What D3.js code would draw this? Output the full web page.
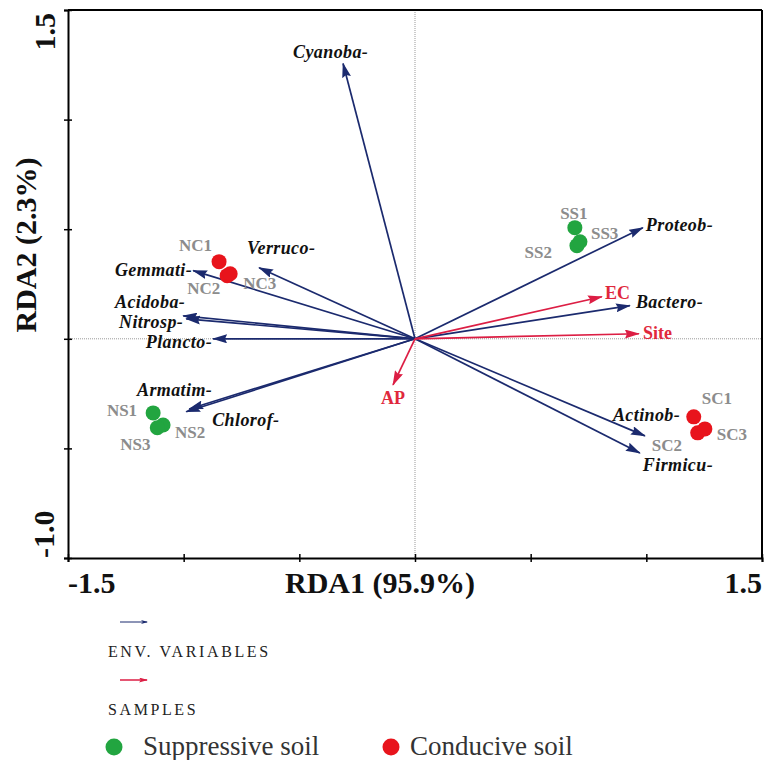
<html>
<head>
<style>
body { margin: 0; background: #fff; }
svg text { font-family: 'Liberation Serif', 'Times New Roman', serif; }
.species-label { font-size: 18px; font-weight: bold; font-style: italic; fill: #111; letter-spacing: 0.4px; }
.env-label { font-size: 18px; font-weight: bold; fill: #e0283c; }
.sample-label { font-size: 17px; font-weight: bold; fill: #8c8c8c; }
.axis-text { font-size: 30px; font-weight: bold; fill: #111; }
.legend-small { font-size: 16px; fill: #222; letter-spacing: 2.6px; }
.legend-big { font-size: 27px; fill: #333; }
</style>
</head>
<body>

<svg></svg>

<script src="https://d3js.org/d3.v7.min.js"></script>
<script>

const navy = '#1b2a6e';
const red = '#dc1e44';
const groupColors = ['#22a540', '#e8141c'];

// species arrows (RDA1, RDA2)
const speciesNames = ['Cyanoba-', 'Verruco-', 'Gemmati-', 'Acidoba-', 'Nitrosp-', 'Plancto-',
    'Armatim-', 'Chlorof-', 'Proteob-', 'Bactero-', 'Actinob-', 'Firmicu-'];
const speciesRDA1 = [-0.311, -0.674, -0.959, -1.002, -0.989, -0.873, -0.976, -0.989, 0.985, 0.929, 0.994, 0.972];
const speciesRDA2 = [1.256, 0.324, 0.311, 0.105, 0.091, 0.000, -0.320, -0.333, 0.507, 0.151, -0.443, -0.521];

// environmental arrows
const envNames = ['EC', 'Site', 'AP'];
const envRDA1 = [0.808, 0.968, -0.095];
const envRDA2 = [0.192, 0.023, -0.210];

// samples
const sampleNames = ['SS1', 'SS2', 'SS3', 'NC1', 'NC2', 'NC3', 'NS1', 'NS2', 'NS3', 'SC1', 'SC2', 'SC3'];
const sampleRDA1 = [0.691, 0.700, 0.713, -0.847, -0.812, -0.799, -1.132, -1.089, -1.114, 1.205, 1.222, 1.253];
const sampleRDA2 = [0.507, 0.425, 0.443, 0.352, 0.288, 0.297, -0.338, -0.393, -0.406, -0.356, -0.429, -0.411];
const sampleGroup = [0, 0, 0, 1, 1, 1, 0, 0, 0, 1, 1, 1];

const groupNames = ['Suppressive soil', 'Conducive soil'];
const xTicks = [-1.5, -1.0, -0.5, 0, 0.5, 1.0, 1.5];
const yTicks = [-1.0, -0.5, 0, 0.5, 1.0, 1.5];
const xTickLabels = ['-1.5', '1.5'];
const yTickLabels = ['1.5', '-1.0'];

// label placement, pixels from the arrow tip / point: [dx, dy, anchor]
const labelOffsets = {
    'Cyanoba-': [-50, -5, 'start'], 'Verruco-': [-12, -14, 'start'], 'Gemmati-': [-1, 5, 'end'],
    'Acidoba-': [2, -8, 'end'], 'Nitrosp-': [-3, 9, 'end'], 'Plancto-': [-1, 9, 'end'],
    'Armatim-': [23, -13, 'end'], 'Chlorof-': [26, 14, 'start'], 'Proteob-': [3, 3, 'start'],
    'Bactero-': [6, 2, 'start'], 'Actinob-': [-32, -15, 'start'], 'Firmicu-': [3, 18, 'start'],
    'EC': [3, 2, 'start'], 'Site': [4, 5, 'start'], 'AP': [0, 19, 'middle'],
    'SS1': [-1, -9, 'middle'], 'SS2': [-25, 12, 'end'], 'SS3': [11, -3, 'start'],
    'NC1': [-7, -11, 'end'], 'NC2': [-40, 18, 'start'], 'NC3': [13, 15, 'start'],
    'NS1': [-16, 3, 'end'], 'NS2': [12, 13, 'start'], 'NS3': [-37, 22, 'start'],
    'SC1': [8, -13, 'start'], 'SC2': [-46, 18, 'start'], 'SC3': [12, 11, 'start'],
};

const width = 770;
const height = 760;
const plot = {left: 68, right: 762, top: 10, bottom: 558};

const x = d3.scaleLinear().domain([-1.5, 1.5]).range([plot.left, plot.right]);
const y = d3.scaleLinear().domain([-1.0, 1.5]).range([plot.bottom, plot.top]);

const svg = d3.select('svg')
    .attr('width', width)
    .attr('height', height);

const defs = svg.append('defs');

function addHead(id, color, len, wid) {
    defs.append('marker')
        .attr('id', id)
        .attr('markerUnits', 'userSpaceOnUse')
        .attr('viewBox', `0 0 ${len} ${wid}`)
        .attr('refX', len - 1)
        .attr('refY', wid / 2)
        .attr('markerWidth', len)
        .attr('markerHeight', wid)
        .attr('orient', 'auto')
        .append('path')
        .attr('d', `M0,0L${len},${wid / 2}L0,${wid}L2,${wid / 2}Z`)
        .attr('fill', color);
}
addHead('head-navy', navy, 15, 9);
addHead('head-red', red, 15, 9);
addHead('head-navy-small', navy, 7, 4);
addHead('head-red-small', red, 9, 5);

// zero lines
svg.append('line')
    .attr('x1', x(0)).attr('x2', x(0))
    .attr('y1', plot.top).attr('y2', plot.bottom)
    .attr('stroke', '#999').attr('stroke-width', 1).attr('stroke-dasharray', '1,1');
svg.append('line')
    .attr('x1', plot.left).attr('x2', plot.right)
    .attr('y1', y(0)).attr('y2', y(0))
    .attr('stroke', '#999').attr('stroke-width', 1).attr('stroke-dasharray', '1,1');

// axes with ticks across the line
const xAxis = svg.append('g')
    .attr('transform', `translate(0, ${plot.bottom})`)
    .call(d3.axisBottom(x).tickValues(xTicks).tickSize(4).tickFormat(''));
xAxis.selectAll('.tick line').attr('y1', -4).attr('y2', 4).attr('stroke-width', 1.5);
xAxis.select('.domain').attr('stroke-width', 2);

const yAxis = svg.append('g')
    .attr('transform', `translate(${plot.left}, 0)`)
    .call(d3.axisLeft(y).tickValues(yTicks).tickSize(4).tickFormat(''));
yAxis.selectAll('.tick line').attr('x1', -4).attr('x2', 4).attr('stroke-width', 1.5);
yAxis.select('.domain').attr('stroke-width', 2);

svg.append('line')
    .attr('x1', plot.left).attr('x2', plot.right)
    .attr('y1', plot.top).attr('y2', plot.top)
    .attr('stroke', '#000').attr('stroke-width', 2);
svg.append('line')
    .attr('x1', plot.right).attr('x2', plot.right)
    .attr('y1', plot.top).attr('y2', plot.bottom)
    .attr('stroke', '#000').attr('stroke-width', 2);

// arrows
const species = speciesNames.map((name, i) => ({name, rx: speciesRDA1[i], ry: speciesRDA2[i]}));
const env = envNames.map((name, i) => ({name, rx: envRDA1[i], ry: envRDA2[i]}));
const samples = sampleNames.map((name, i) => ({name, rx: sampleRDA1[i], ry: sampleRDA2[i], g: sampleGroup[i]}));

svg.append('g').selectAll('line').data(species)
    .join('line')
    .attr('x1', x(0)).attr('y1', y(0))
    .attr('x2', d => x(d.rx)).attr('y2', d => y(d.ry))
    .attr('stroke', navy).attr('stroke-width', 1.7)
    .attr('marker-end', 'url(#head-navy)');

svg.append('g').selectAll('line').data(env)
    .join('line')
    .attr('x1', x(0)).attr('y1', y(0))
    .attr('x2', d => x(d.rx)).attr('y2', d => y(d.ry))
    .attr('stroke', red).attr('stroke-width', 1.7)
    .attr('marker-end', 'url(#head-red)');

svg.append('g').selectAll('circle').data(samples)
    .join('circle')
    .attr('cx', d => x(d.rx)).attr('cy', d => y(d.ry))
    .attr('r', 7.5)
    .attr('fill', d => groupColors[d.g]);

function placeLabels(data, cls) {
    svg.append('g').selectAll('text').data(data)
        .join('text')
        .attr('class', cls)
        .attr('x', d => x(d.rx) + labelOffsets[d.name][0])
        .attr('y', d => y(d.ry) + labelOffsets[d.name][1])
        .attr('text-anchor', d => labelOffsets[d.name][2])
        .text(d => d.name);
}
placeLabels(species, 'species-label');
placeLabels(env, 'env-label');
placeLabels(samples, 'sample-label');

// axis texts
svg.append('text').attr('class', 'axis-text')
    .attr('x', x(-1.5)).attr('y', 593).text(xTickLabels[0]);
svg.append('text').attr('class', 'axis-text')
    .attr('x', x(1.5)).attr('y', 593).attr('text-anchor', 'end').text(xTickLabels[1]);
svg.append('text').attr('class', 'axis-text')
    .attr('x', 285).attr('y', 593).text('RDA1 (95.9%)');

svg.append('text').attr('class', 'axis-text')
    .attr('transform', `translate(55, ${y(1.5) + 3}) rotate(-90)`)
    .attr('text-anchor', 'end').text(yTickLabels[0]);
svg.append('text').attr('class', 'axis-text')
    .attr('transform', `translate(54, ${y(-1.0)}) rotate(-90)`)
    .text(yTickLabels[1]);
svg.append('text').attr('class', 'axis-text')
    .attr('transform', 'translate(36, 245) rotate(-90)')
    .attr('text-anchor', 'middle').text('RDA2 (2.3%)');

// legend
const legend = svg.append('g');
legend.append('line')
    .attr('x1', 120).attr('x2', 147).attr('y1', 622).attr('y2', 622)
    .attr('stroke', navy).attr('stroke-width', 1)
    .attr('marker-end', 'url(#head-navy-small)');
legend.append('text').attr('class', 'legend-small')
    .attr('x', 108).attr('y', 657).text('ENV. VARIABLES');
legend.append('line')
    .attr('x1', 120).attr('x2', 147).attr('y1', 680).attr('y2', 680)
    .attr('stroke', red).attr('stroke-width', 1.5)
    .attr('marker-end', 'url(#head-red-small)');
legend.append('text').attr('class', 'legend-small')
    .attr('x', 108).attr('y', 715).text('SAMPLES');

const legendX = [114, 391];
legend.selectAll('circle').data(groupNames)
    .join('circle')
    .attr('cx', (d, i) => legendX[i]).attr('cy', 747)
    .attr('r', 8.5)
    .attr('fill', (d, i) => groupColors[i]);
legend.selectAll('text.legend-big').data(groupNames)
    .join('text')
    .attr('class', 'legend-big')
    .attr('x', (d, i) => legendX[i] + (i === 0 ? 29 : 19)).attr('y', 755)
    .text(d => d);

</script>
</body>
</html>
